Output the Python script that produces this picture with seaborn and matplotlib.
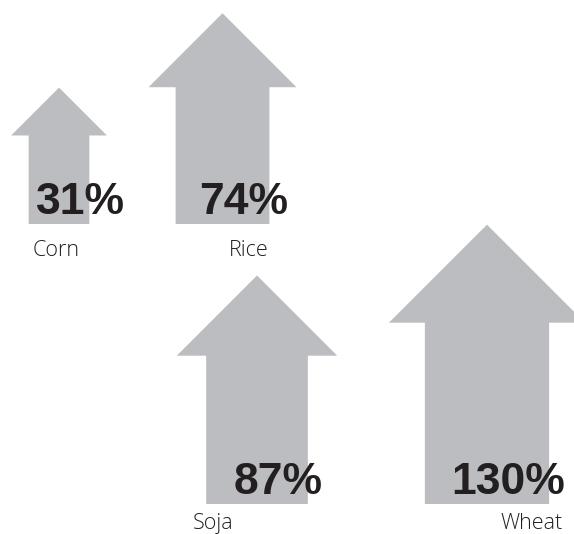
import matplotlib
matplotlib.use('Agg')
import numpy as np
import matplotlib.pyplot as plt
import seaborn as sns

# data
crops = ["Corn", "Rice", "Soja", "Wheat"]
growth = [31, 74, 87, 130]
pct_labels = ["31%", "74%", "87%", "130%"]

# layout (pixel-like units, y grows downward)
col_x = [59, 222.5, 257, 487]
base_y = [224, 224, 504, 504]
name_dx = [-3, 26, -44, 45]
name_dy = [32, 32, 25, 25]

# arrow size per sqrt(value) unit
H_UNIT = 24.5
SHAFT_UNIT = 10.9
HEAD_UNIT = 8.6

ARROW_COLOR = "#bcbdc0"
TEXT_COLOR = "#231f20"

sns.set_theme(style="white")
plt.rcParams['font.family'] = ['Open Sans', 'DejaVu Sans']

fig = plt.figure(figsize=(5.74, 5.34), dpi=100)
ax = fig.add_axes([0, 0, 1, 1])
ax.set_xlim(0, 574)
ax.set_ylim(534, 0)
ax.axis('off')

for name, val, lab, cx, by, dx, dy in zip(crops, growth, pct_labels,
                                         col_x, base_y, name_dx, name_dy):
    s = np.sqrt(val)
    h = H_UNIT * s
    sw = SHAFT_UNIT * s / 2
    hw = HEAD_UNIT * s
    top = by - h
    neck = top + hw
    xs = [cx - sw, cx - sw, cx - hw, cx, cx + hw, cx + sw, cx + sw]
    ys = [by, neck, neck, top, neck, neck, by]
    ax.fill(xs, ys, color=ARROW_COLOR, lw=0, zorder=1)

    ax.text(cx + 21, by - 10, lab, ha='center', va='baseline',
            fontsize=32, fontweight='bold', color=TEXT_COLOR,
            family=['Liberation Sans', 'DejaVu Sans'], zorder=2)
    ax.text(cx + dx, by + dy, name, ha='center', va='baseline',
            fontsize=15.5, fontweight='light', color=TEXT_COLOR, zorder=2)

fig.savefig('out.png', dpi=100)
